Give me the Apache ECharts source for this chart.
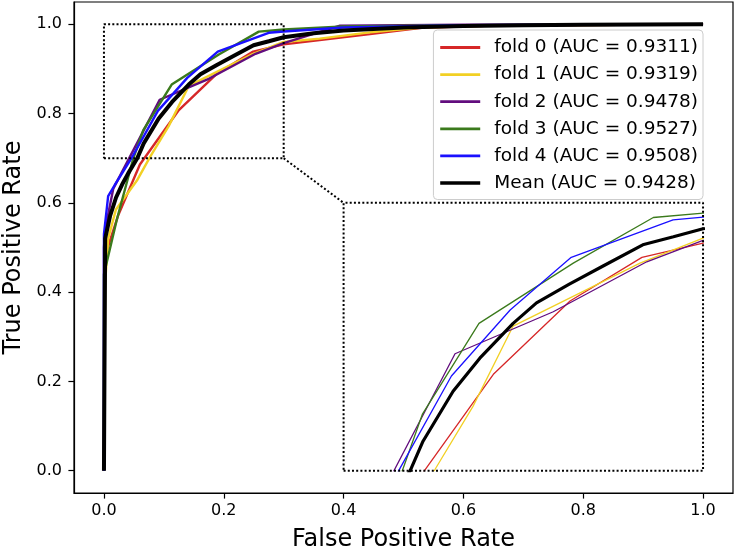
<!DOCTYPE html>
<html>
<head>
<meta charset="utf-8">
<script src="https://cdn.jsdelivr.net/npm/echarts@6/dist/echarts.min.js"></script>
<style>
html,body{margin:0;padding:0;background:#fff;}
#chart{width:736px;height:552px;}
</style>
</head>
<body>
<div id="chart"></div>
<script>
// ---- data ----
const seriesNames = ['fold 0 (AUC = 0.9311)', 'fold 1 (AUC = 0.9319)', 'fold 2 (AUC = 0.9478)',
                     'fold 3 (AUC = 0.9527)', 'fold 4 (AUC = 0.9508)', 'Mean (AUC = 0.9428)'];
const seriesColors = ['#d62728', '#f2d024', '#620d7e', '#3b7a1c', '#1a10ff', '#000000'];

const fold0 = [[0,0],[0.001,0.44],[0.004,0.49],[0.024,0.573],[0.06,0.686],[0.125,0.808],[0.189,0.89],
               [0.249,0.939],[0.3,0.955],[0.36,0.965],[0.444,0.978],[0.53,0.992],[0.65,0.997],[1,1]];
const fold1 = [[0,0],[0.002,0.42],[0.007,0.52],[0.02,0.585],[0.055,0.65],[0.077,0.703],[0.108,0.772],
               [0.1415,0.862],[0.2474,0.9325],[0.3,0.9605],[0.36,0.968],[0.444,0.982],[0.53,0.993],[0.65,0.997],[1,1]];
const fold2 = [[0,0],[0,0.5],[0.002,0.54],[0.0156,0.632],[0.093,0.831],[0.175,0.878],[0.253,0.934],
               [0.3,0.958],[0.394,0.997],[0.6,0.999],[1,1]];
const fold3 = [[0,0],[0,0.44],[0.021,0.56],[0.049,0.70],[0.0657,0.763],[0.113,0.865],[0.1917,0.9325],
               [0.2585,0.9836],[0.3,0.9884],[0.4,0.995],[0.6,0.998],[1,1]];
const fold4 = [[0,0],[0,0.53],[0.007,0.615],[0.018,0.64],[0.046,0.70],[0.09,0.806],[0.139,0.88],[0.19,0.939],
               [0.275,0.981],[0.3,0.984],[0.4,0.993],[0.6,0.998],[1,1]];
const meanRoc = [[0,0],[0.002,0.52],[0.0101,0.57],[0.0202,0.612],[0.0303,0.641],[0.0404,0.666],[0.0556,0.70],
                 [0.0663,0.733],[0.0914,0.789],[0.1137,0.826],[0.1415,0.865],[0.161,0.888],[0.1884,0.909],
                 [0.2162,0.929],[0.2497,0.953],[0.2753,0.962],[0.3,0.971],[0.35,0.98],[0.4,0.986],
                 [0.5,0.993],[0.6,0.996],[0.7,0.998],[0.8,0.999],[1,1]];
const curves = [fold0, fold1, fold2, fold3, fold4, meanRoc];

const xTicks = [0, 0.2, 0.4, 0.6, 0.8, 1.0];
const yTicks = [0, 0.2, 0.4, 0.6, 0.8, 1.0];
const axisRange = [-0.05, 1.05];

// zoomed region and where the inset is placed (data coordinates of the main axes)
const zoomX = [0, 0.3];
const zoomY = [0.7, 1.0];
const insetX = [0.4, 1.0];
const insetY = [0, 0.6];

// ---- chart ----
const FONT = 'DejaVu Sans';
const chart = echarts.init(document.getElementById('chart'), null, {renderer: 'canvas'});

function rect(xr, yr) {
  return [[xr[0], yr[0]], [xr[1], yr[0]], [xr[1], yr[1]], [xr[0], yr[1]], [xr[0], yr[0]]];
}
const dotted = {color: '#000', width: 2, type: [2, 2.2], cap: 'butt'};

const axisCommon = {
  type: 'value', min: axisRange[0], max: axisRange[1],
  axisLine: {show: true, onZero: false, lineStyle: {color: '#000', width: 1.2}},
  splitLine: {show: false},
  nameTextStyle: {fontFamily: FONT, fontSize: 24, color: '#000'},
};

const series = [];
curves.forEach((d, i) => {
  series.push({
    type: 'line', name: seriesNames[i], data: d, xAxisIndex: 0, yAxisIndex: 0,
    symbol: 'none', showSymbol: false, animation: false, clip: true, z: 3 + i * 0.01,
    lineStyle: {color: seriesColors[i], width: i === 5 ? 4 : 2.4},
    itemStyle: {color: seriesColors[i]},
    emphasis: {disabled: true},
  });
});
curves.forEach((d, i) => {
  series.push({
    type: 'line', name: seriesNames[i], data: d, xAxisIndex: 1, yAxisIndex: 1,
    symbol: 'none', showSymbol: false, animation: false, clip: true, z: 5 + i * 0.01,
    lineStyle: {color: seriesColors[i], width: i === 5 ? 3.2 : 1.3},
    itemStyle: {color: seriesColors[i]},
    emphasis: {disabled: true},
  });
});
series.push({
  type: 'line', name: 'zoomBox', data: rect(zoomX, zoomY), xAxisIndex: 0, yAxisIndex: 0,
  symbol: 'none', animation: false, clip: false, z: 6, lineStyle: dotted, emphasis: {disabled: true}
});
series.push({
  type: 'line', name: 'insetBox', data: rect(insetX, insetY), xAxisIndex: 0, yAxisIndex: 0,
  symbol: 'none', animation: false, clip: false, z: 6, lineStyle: dotted, emphasis: {disabled: true}
});
series.push({
  type: 'line', name: 'connector', data: [[zoomX[1], zoomY[0]], [insetX[0], insetY[1]]], xAxisIndex: 0, yAxisIndex: 0,
  symbol: 'none', animation: false, clip: false, z: 6, lineStyle: dotted, emphasis: {disabled: true}
});

const legendData = seriesNames.map((n, i) => ({
  name: n,
  itemStyle: {opacity: 0, borderWidth: 0},
  lineStyle: {color: seriesColors[i], width: i === 5 ? 3.6 : 2.8, opacity: 1}
}));

const option = {
  animation: false,
  backgroundColor: '#fff',
  textStyle: {fontFamily: FONT},
  grid: [
    {left: 74, right: 3, top: 2, bottom: 59, show: true, borderColor: '#000', borderWidth: 1.2,
     backgroundColor: 'transparent', containLabel: false, outerBoundsMode: 'none'},
    {left: 344, right: 33, top: 203, bottom: 81, show: true, borderWidth: 0,
     backgroundColor: '#fff', containLabel: false, outerBoundsMode: 'none', z: 4}
  ],
  xAxis: [
    Object.assign({}, axisCommon, {
      gridIndex: 0, name: 'False Positive Rate', nameLocation: 'middle', nameGap: 35,
      axisTick: {show: true, inside: false, length: 5.6, lineStyle: {color: '#000', width: 1.2}, customValues: xTicks},
      axisLabel: {show: true, margin: 10, fontFamily: FONT, fontSize: 16, color: '#000',
                  customValues: xTicks, formatter: v => Number(v).toFixed(1)},
    }),
    {type: 'value', gridIndex: 1, min: zoomX[0], max: zoomX[1], show: false, splitLine: {show: false}}
  ],
  yAxis: [
    Object.assign({}, axisCommon, {
      gridIndex: 0, name: 'True Positive Rate', nameLocation: 'middle', nameGap: 42,
      axisTick: {show: true, inside: false, length: 5.6, lineStyle: {color: '#000', width: 1.2}, customValues: yTicks},
      axisLabel: {show: true, margin: 12, fontFamily: FONT, fontSize: 16, color: '#000',
                  customValues: yTicks, formatter: v => Number(v).toFixed(1)},
    }),
    {type: 'value', gridIndex: 1, min: zoomY[0], max: zoomY[1], show: false, splitLine: {show: false}}
  ],
  legend: {
    show: true, orient: 'vertical', right: 33, top: 30,
    data: legendData,
    padding: [8, 5, 7, 5], itemGap: 8.1, itemWidth: 40, itemHeight: 14,
    itemStyle: {opacity: 0, borderWidth: 0},
    backgroundColor: 'rgba(255,255,255,0.85)', borderColor: '#cccccc', borderWidth: 1, borderRadius: 4,
    textStyle: {fontFamily: FONT, fontSize: 18.5, color: '#000', padding: [0, 0, 0, 9]},
    selectedMode: false, z: 10
  },
  series: series
};
chart.setOption(option);

// place the inset grid exactly on the insetX/insetY region of the main axes
const p0 = chart.convertToPixel({xAxisIndex: 0, yAxisIndex: 0}, [insetX[0], insetY[1]]);
const p1 = chart.convertToPixel({xAxisIndex: 0, yAxisIndex: 0}, [insetX[1], insetY[0]]);
if (p0 && p1) {
  chart.setOption({grid: [{}, {left: p0[0], top: p0[1], width: p1[0] - p0[0], height: p1[1] - p0[1]}]});
}
</script>
</body>
</html>
